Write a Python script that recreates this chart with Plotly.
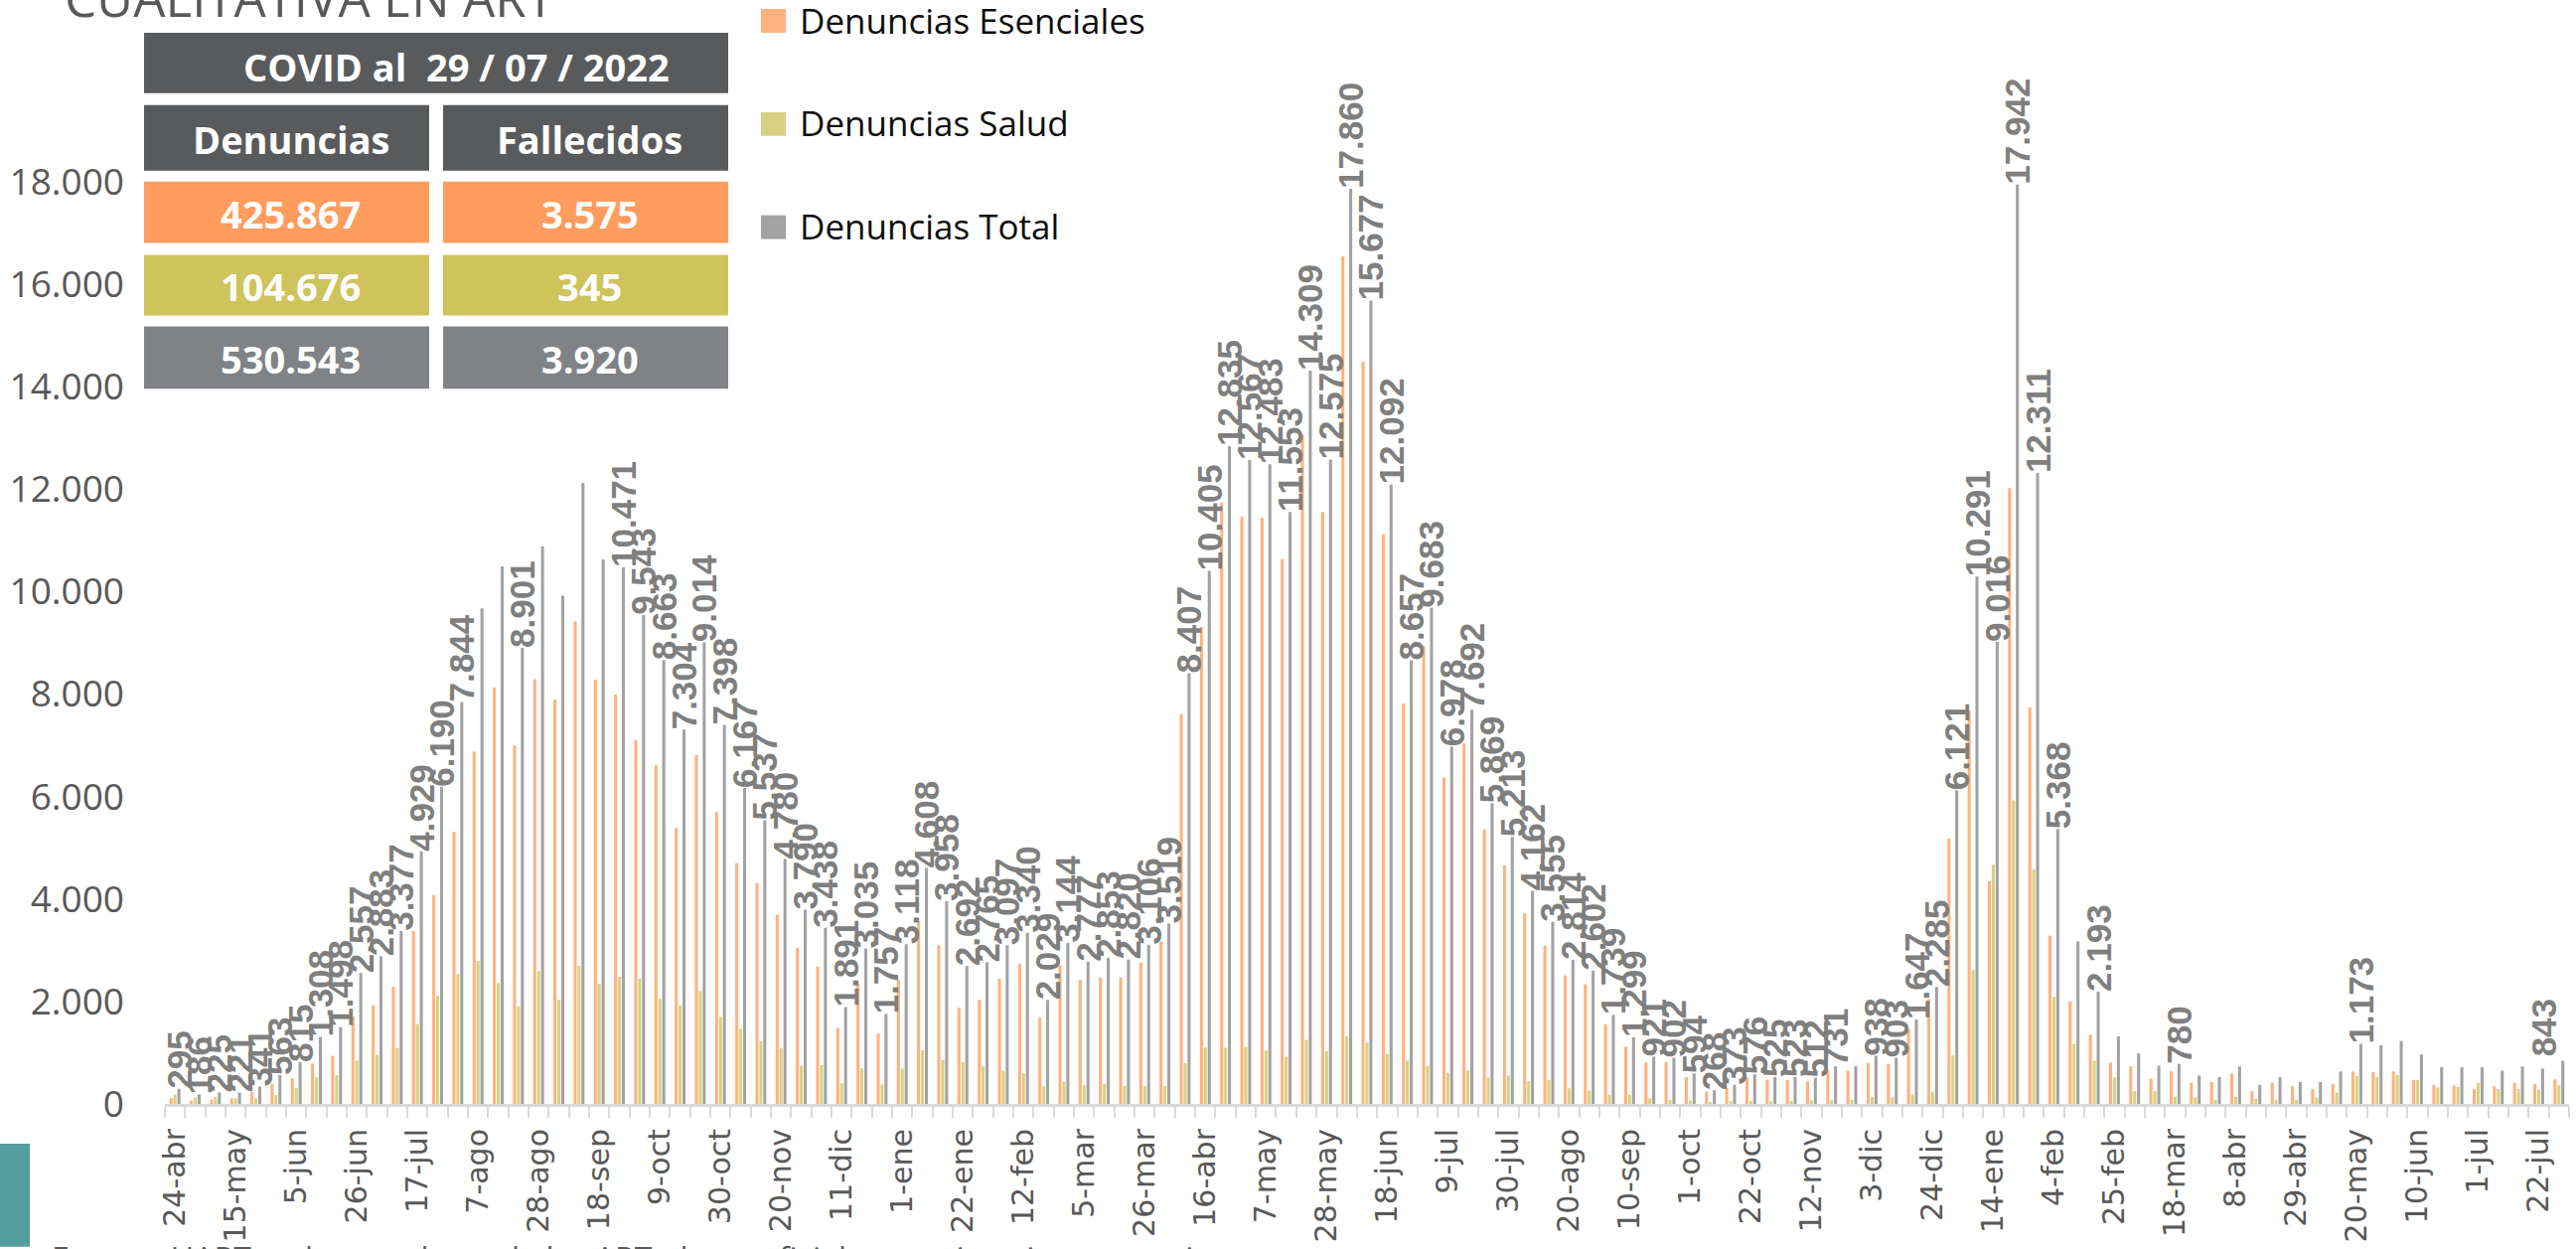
import plotly.graph_objects as go
import pandas as pd

# ---------------- data ----------------
MESES = ["ene", "feb", "mar", "abr", "may", "jun", "jul", "ago", "sep", "oct", "nov", "dic"]
fechas = pd.date_range("2020-04-24", periods=119, freq="7D")
semanas = [f"{d.day}-{MESES[d.month - 1]}-{d.year % 100}" for d in fechas]

tick_labels = ["24-abr", "15-may", "5-jun", "26-jun", "17-jul", "7-ago", "28-ago", "18-sep",
               "9-oct", "30-oct", "20-nov", "11-dic", "1-ene", "22-ene", "12-feb", "5-mar",
               "26-mar", "16-abr", "7-may", "28-may", "18-jun", "9-jul", "30-jul", "20-ago",
               "10-sep", "1-oct", "22-oct", "12-nov", "3-dic", "24-dic", "14-ene", "4-feb",
               "25-feb", "18-mar", "8-abr", "29-abr", "20-may", "10-jun", "1-jul", "22-jul"]

esenciales = [112, 65, 85, 110, 230, 390, 500, 790, 940, 1710,
              1925, 2285, 3370, 4075, 5310, 6880, 8130, 6995, 8290, 7890,
              9420, 8282, 7990, 7100, 6610, 5380, 6810, 5695, 4700, 4310,
              3695, 3045, 2680, 1485, 2340, 1375, 2425, 3560, 3100, 1875,
              2030, 2450, 2740, 1685, 2710, 2415, 2463, 2470, 2758, 3170,
              7610, 9305, 11735, 11453, 11440, 10635, 13060, 11545, 16540, 14480,
              11115, 7810, 8940, 6370, 7040, 5355, 4657, 3720, 3088, 2508,
              2338, 1558, 1118, 810, 819, 525, 240, 318, 520, 470,
              465, 440, 660, 652, 799, 778, 1460, 2045, 5175, 7676,
              4350, 12017, 7735, 3282, 2003, 1350, 807, 737, 495, 635,
              414, 428, 593, 248, 414, 345, 290, 386, 634, 621,
              634, 469, 372, 359, 290, 345, 414, 386, 480]

salud = [183, 121, 140, 111, 111, 173, 315, 518, 558, 847,
         958, 1092, 1559, 2115, 2534, 2790, 2360, 1906, 2590, 2030,
         2700, 2346, 2481, 2443, 2053, 1924, 2204, 1703, 1467, 1227,
         1085, 745, 758, 406, 695, 382, 693, 1048, 858, 817,
         735, 647, 600, 344, 434, 362, 390, 350, 348, 349,
         797, 1100, 1100, 1114, 1043, 918, 1249, 1030, 1320, 1197,
         977, 847, 743, 608, 652, 514, 556, 442, 467, 306,
         264, 181, 181, 111, 83, 69, 28, 55, 56, 55,
         58, 72, 71, 83, 139, 125, 187, 240, 946, 2615,
         4666, 5925, 4576, 2086, 1168, 843, 515, 250, 250, 145,
         124, 83, 138, 97, 83, 83, 124, 221, 539, 524,
         566, 469, 317, 331, 414, 290, 290, 276, 363]

total = [295, 186, 225, 221, 341, 563, 815, 1308, 1498, 2557,
         2883, 3377, 4929, 6190, 7844, 9670, 10490, 8901, 10880, 9920,
         12120, 10628, 10471, 9543, 8663, 7304, 9014, 7398, 6167, 5537,
         4780, 3790, 3438, 1891, 3035, 1757, 3118, 4608, 3958, 2692,
         2765, 3097, 3340, 2029, 3144, 2777, 2853, 2820, 3106, 3519,
         8407, 10405, 12835, 12567, 12483, 11553, 14309, 12575, 17860, 15677,
         12092, 8657, 9683, 6978, 7692, 5869, 5213, 4162, 3555, 2814,
         2602, 1739, 1299, 921, 902, 594, 268, 373, 576, 525,
         523, 512, 731, 735, 938, 903, 1647, 2285, 6121, 10291,
         9016, 17942, 12311, 5368, 3171, 2193, 1322, 987, 745, 780,
         552, 524, 731, 372, 524, 428, 428, 634, 1173, 1145,
         1228, 966, 717, 717, 717, 648, 731, 690, 843]

# weeks whose total bar carries a data label in the original
semanas_con_etiqueta = (list(range(0, 15)) + [17] + list(range(22, 83)) +
                        list(range(84, 94)) + [95, 99, 108, 118])

tabla_titulo = "COVID al  29 / 07 / 2022"
tabla_cols = ["Denuncias", "Fallecidos"]
tabla_denuncias = ["425.867", "104.676", "530.543"]
tabla_fallecidos = ["3.575", "345", "3.920"]

series_nombres = ["Denuncias Esenciales", "Denuncias Salud", "Denuncias Total"]

# ---------------- styling ----------------
C_ORANGE = "#FFB27D"
C_YELLOW = "#D8D184"
C_GRAY = "#A2A2A2"
C_TXT = "#595959"
LABEL_FONT = dict(family="Liberation Sans", size=35, color="#7F7F7F", weight="bold")

W, H = 2593, 1257
L, R, T, B = 166, 2586, 20, 1113


def px(x):
    return (x - L) / (R - L)


def py(y):
    return (B - y) / (B - T)


def fmt(v):
    return f"{v:,}".replace(",", ".")


last = len(total) - 1
labels = [fmt(v) if (i in semanas_con_etiqueta and i != last) else "" for i, v in enumerate(total)]
ticktext = [tick_labels[i // 3] if i % 3 == 0 else "" for i in range(len(semanas))]

fig = go.Figure()
fig.add_bar(x=semanas, y=esenciales, name=series_nombres[0], marker_color=C_ORANGE,
            marker_line_width=0)
fig.add_bar(x=semanas, y=salud, name=series_nombres[1], marker_color=C_YELLOW,
            marker_line_width=0)
fig.add_bar(x=semanas, y=total, name=series_nombres[2], marker_color=C_GRAY,
            marker_line_width=0, text=labels, textposition="outside", textangle=-90,
            constraintext="none", cliponaxis=False, textfont=LABEL_FONT)

shapes = []
annotations = []

# label of the last week, nudged left so it stays inside the chart (as in the original)
annotations.append(dict(xref="x", yref="y", x=semanas[last], y=total[last], text=fmt(total[last]),
                        textangle=-90, xanchor="center", yanchor="bottom", xshift=-15, yshift=2,
                        showarrow=False, font=LABEL_FONT))


def note(x, y, text, size, color, family="Open Sans", xanchor="center", yanchor="middle"):
    annotations.append(dict(xref="paper", yref="paper", x=px(x), y=py(y), text=text,
                            xanchor=xanchor, yanchor=yanchor, showarrow=False,
                            font=dict(family=family, size=size, color=color)))


# title (cropped at top)
note(63, -3, "CUALITATIVA EN ART", 51, C_TXT, xanchor="left")

# summary table
DARK = "#595A5C"
row_cols = [DARK, "#FF9C5E", "#CFC35B", "#808285"]
shapes.append(dict(type="rect", xref="paper", yref="paper", x0=px(145), x1=px(733),
                   y0=py(94), y1=py(33), fillcolor=DARK, line_width=0, layer="above"))
note(459, 67, f"<b>{tabla_titulo}</b>", 38, "white")
rows_y = [(106, 172), (183, 245), (257, 318), (329, 392)]
cols_x = [(145, 432), (446, 733)]
cell_text = [tabla_cols, [tabla_denuncias[0], tabla_fallecidos[0]],
             [tabla_denuncias[1], tabla_fallecidos[1]], [tabla_denuncias[2], tabla_fallecidos[2]]]
for ri, (y0, y1) in enumerate(rows_y):
    for ci, (x0, x1) in enumerate(cols_x):
        shapes.append(dict(type="rect", xref="paper", yref="paper", x0=px(x0), x1=px(x1),
                           y0=py(y1), y1=py(y0), fillcolor=row_cols[ri], line_width=0,
                           layer="above"))
        note((x0 + x1) / 2 + 4, (y0 + y1) / 2 + 1, f"<b>{cell_text[ri][ci]}</b>", 38, "white")

# legend
for i, (name, col) in enumerate(zip(series_nombres, [C_ORANGE, C_YELLOW, C_GRAY])):
    cy = [21, 125, 229][i]
    shapes.append(dict(type="rect", xref="paper", yref="paper", x0=px(766), x1=px(791),
                       y0=py(cy + 12), y1=py(cy - 12), fillcolor=col, line_width=0))
    note(803, cy - 1, name, 35, "#0D0D0D", xanchor="left")

# bottom-left accent and cropped source line
shapes.append(dict(type="rect", xref="paper", yref="paper", x0=px(0), x1=px(30),
                   y0=py(1257), y1=py(1153), fillcolor="#559E9E", line_width=0))
note(50, 1245, "Fuente: UART en base a datos de las ART, datos oficiales y estimaciones propias",
     32, C_TXT, xanchor="left", yanchor="top")

fig.update_layout(
    width=W, height=H,
    margin=dict(l=L, r=W - R, t=T, b=H - B, pad=0),
    barmode="group", bargap=0.42, bargroupgap=0.22,
    plot_bgcolor="white", paper_bgcolor="white",
    separators=",.",
    showlegend=False,
    shapes=shapes, annotations=annotations,
    xaxis=dict(type="category", tickmode="array", tickvals=semanas, ticktext=ticktext,
               tickson="boundaries", ticks="outside", ticklen=11, tickwidth=2,
               tickcolor="#D9D9D9", showline=True, linecolor="#D9D9D9", linewidth=3,
               showgrid=False, tickangle=-90, ticklabelstandoff=10,
               tickfont=dict(family="DejaVu Sans", size=30, color=C_TXT)),
    yaxis=dict(range=[0, (B - T) / ((B - 183) / 18000)],
               tickmode="array", tickvals=list(range(0, 18001, 2000)),
               tickformat=",d", showgrid=False, zeroline=False, showline=False,
               ticks="", ticklabelstandoff=40,
               tickfont=dict(family="Open Sans", size=37, color=C_TXT)),
)

fig.write_html("out.html", config={"displayModeBar": False},
               post_script="document.body.style.margin='0';")
